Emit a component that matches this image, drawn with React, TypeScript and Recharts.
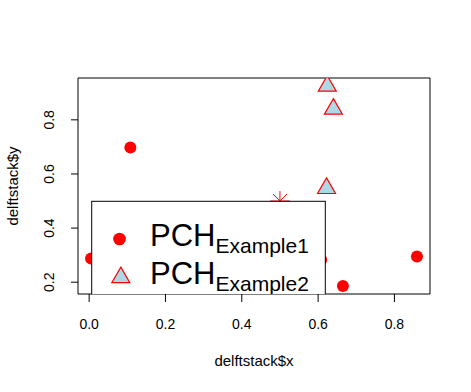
import React from "react";
import {
  ReferenceArea,
  Scatter,
  ScatterChart,
  XAxis,
  YAxis,
} from "recharts";

const example1X = [0.005, 0.108, 0.608, 0.665, 0.859];
const example1Y = [0.288, 0.698, 0.283, 0.186, 0.295];
const example2X = [0.624, 0.64, 0.622];
const example2Y = [0.925, 0.84, 0.547];
const starX = [0.5];
const starY = [0.5];

const xTicks = [0, 0.2, 0.4, 0.6, 0.8];
const yTicks = [0.2, 0.4, 0.6, 0.8];
const legendMain = ["PCH", "PCH"];
const legendSub = ["Example1", "Example2"];

const FONT = "'Liberation Sans', Arial, sans-serif";
const RED = "#FF0000";
const LIGHTBLUE = "#ADD8E6";

const X_DOMAIN = [-0.0292, 0.8932];
const Y_DOMAIN = [0.1564, 0.9546];

const toPoints = (xs: number[], ys: number[]) =>
  xs.map((x, i) => ({ x, y: ys[i] }));

const example1 = toPoints(example1X, example1Y);
const example2 = toPoints(example2X, example2Y);
const stars = toPoints(starX, starY);

// R style plot region
const PLOT = { left: 78, top: 78, right: 430, bottom: 294 };
const CLIP = "url(#plot-clip)";

const trianglePath = (cx: number, cy: number, side = 18) => {
  const h = (side * Math.sqrt(3)) / 2;
  return `M${cx},${cy - (2 * h) / 3} L${cx + side / 2},${cy + h / 3} L${cx - side / 2},${cy + h / 3} Z`;
};

const DotShape = (p: any) => (
  <circle cx={p.cx} cy={p.cy} r={6} fill={RED} clipPath={CLIP} />
);

const TriangleShape = (p: any) => (
  <path
    d={trianglePath(p.cx, p.cy)}
    fill={LIGHTBLUE}
    stroke={RED}
    strokeWidth={1.2}
    clipPath={CLIP}
  />
);

const StarShape = (p: any) => {
  const d = 7;
  const a = 9.9;
  return (
    <g stroke={RED} strokeWidth={1} clipPath={CLIP}>
      <line x1={p.cx - a} y1={p.cy} x2={p.cx + a} y2={p.cy} />
      <line x1={p.cx} y1={p.cy - a} x2={p.cx} y2={p.cy + a} />
      <line x1={p.cx - d} y1={p.cy - d} x2={p.cx + d} y2={p.cy + d} />
      <line x1={p.cx - d} y1={p.cy + d} x2={p.cx + d} y2={p.cy - d} />
    </g>
  );
};

const XTick = (p: any) => (
  <text x={p.x} y={p.y} dy="0.71em" textAnchor="middle" fontSize={14} fontFamily={FONT} fill="#000">
    {Number(p.payload.value).toFixed(1)}
  </text>
);

const YTick = (p: any) => (
  <text
    transform={`translate(${p.x},${p.y}) rotate(-90)`}
    textAnchor="middle"
    fontSize={14}
    fontFamily={FONT}
    fill="#000"
  >
    {Number(p.payload.value).toFixed(1)}
  </text>
);

function LegendOverlay() {
  const rows = [
    { cy: 239, baseline: 246 },
    { cy: 277.5, baseline: 284 },
  ];
  return (
    <svg
      width={471}
      height={392}
      style={{ position: "absolute", left: 0, top: 0, pointerEvents: "none" }}
    >
      <defs>
        <clipPath id="plot-clip" clipPathUnits="userSpaceOnUse">
          <rect
            x={PLOT.left}
            y={PLOT.top}
            width={PLOT.right - PLOT.left}
            height={PLOT.bottom - PLOT.top}
          />
        </clipPath>
      </defs>
      <g clipPath={CLIP}>
        <rect x={91.7} y={201.3} width={233.6} height={200} fill="#fff" stroke="#000" strokeWidth={1} />
        {rows.map((r, i) => (
          <g key={legendSub[i]}>
            {i === 0 ? (
              <circle cx={119.5} cy={r.cy} r={6.3} fill={RED} />
            ) : (
              <path d={trianglePath(120.8, r.cy)} fill={LIGHTBLUE} stroke={RED} strokeWidth={1.2} />
            )}
            <text x={150} y={r.baseline} fontFamily={FONT} fill="#000">
              <tspan fontSize={31}>{legendMain[i]}</tspan>
              <tspan fontSize={21} dy={6.5}>{legendSub[i]}</tspan>
            </text>
          </g>
        ))}
      </g>
    </svg>
  );
}

export default function App() {
  return (
    <div style={{ position: "absolute", left: 0, top: 0, width: 471, height: 392, background: "#fff" }}>
      <ScatterChart
        width={471}
        height={392}
        margin={{ top: PLOT.top, right: 471 - PLOT.right, bottom: 0, left: 0 }}
      >
        <XAxis
          type="number"
          dataKey="x"
          domain={X_DOMAIN}
          allowDataOverflow
          ticks={xTicks}
          interval={0}
          height={392 - PLOT.bottom}
          tickSize={8}
          tickMargin={17}
          tick={XTick}
          tickLine={{ stroke: "#000" }}
          axisLine={false}
          label={(props: any) => {
            const vb = props.viewBox;
            return (
              <text x={vb.x + vb.width / 2} y={366} textAnchor="middle" fontSize={15} fontFamily={FONT} fill="#000">
                delftstack$x
              </text>
            );
          }}
        />
        <YAxis
          type="number"
          dataKey="y"
          domain={Y_DOMAIN}
          allowDataOverflow
          ticks={yTicks}
          interval={0}
          width={PLOT.left}
          tickSize={7}
          tickMargin={17}
          tick={YTick}
          tickLine={{ stroke: "#000" }}
          axisLine={false}
          label={(props: any) => {
            const vb = props.viewBox;
            const cy = vb.y + vb.height / 2;
            return (
              <text
                transform={`translate(18,${cy}) rotate(-90)`}
                textAnchor="middle"
                fontSize={15}
                fontFamily={FONT}
                fill="#000"
              >
                delftstack$y
              </text>
            );
          }}
        />
        <ReferenceArea
          x1={X_DOMAIN[0]}
          x2={X_DOMAIN[1]}
          y1={Y_DOMAIN[0]}
          y2={Y_DOMAIN[1]}
          ifOverflow="visible"
          fill="#fff"
          fillOpacity={0}
          stroke="#000"
          strokeWidth={1}
          strokeOpacity={1}
        />
        <Scatter data={example1} shape={DotShape} isAnimationActive={false} />
        <Scatter data={stars} shape={StarShape} isAnimationActive={false} />
        <Scatter data={example2} shape={TriangleShape} isAnimationActive={false} />
      </ScatterChart>
      <LegendOverlay />
    </div>
  );
}
